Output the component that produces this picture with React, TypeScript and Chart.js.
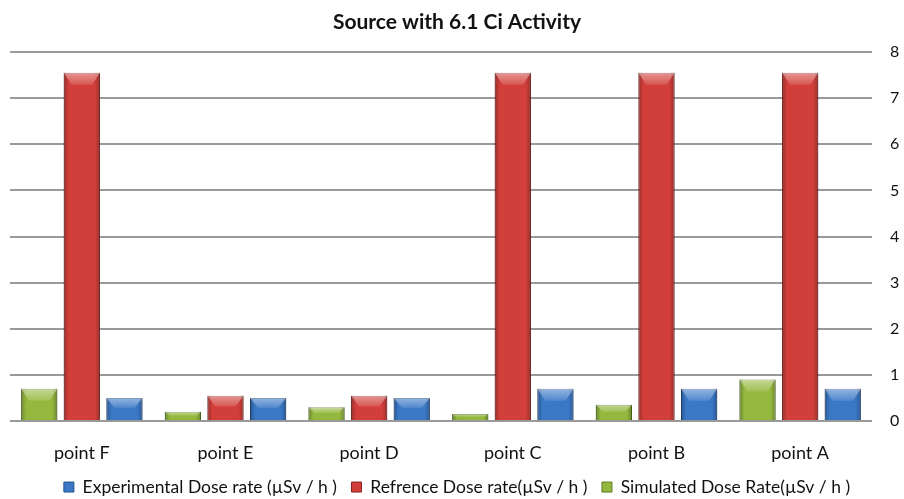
import React, { useEffect, useRef } from "react";
import { Chart, registerables } from "chart.js";

Chart.register(...registerables);

const categories = ["point F", "point E", "point D", "point C", "point B", "point A"];
const simulated = [0.7, 0.2, 0.3, 0.15, 0.35, 0.9];
const reference = [7.55, 0.55, 0.55, 7.55, 7.55, 7.55];
const experimental = [0.5, 0.5, 0.5, 0.7, 0.7, 0.7];
const yTicks = [0, 1, 2, 3, 4, 5, 6, 7, 8];

const FONT = "Lato, 'Open Sans', sans-serif";

// Excel-like bevel: darker sides and a lighter trapezoid on the top of each bar
const bevelPlugin = {
  id: "bevel",
  afterDatasetsDraw(chart: any) {
    const ctx = chart.ctx;
    chart.data.datasets.forEach((_ds: any, di: number) => {
      const meta = chart.getDatasetMeta(di);
      if (meta.hidden) return;
      meta.data.forEach((bar: any) => {
        const { x, y, base, width } = bar.getProps(["x", "y", "base", "width"], true);
        const l = x - width / 2;
        const r = x + width / 2;
        const h = base - y;
        if (h <= 0) return;
        ctx.save();
        const g = ctx.createLinearGradient(l, 0, r, 0);
        g.addColorStop(0, "rgba(0,0,0,0.28)");
        g.addColorStop(0.14, "rgba(0,0,0,0.0)");
        g.addColorStop(0.86, "rgba(0,0,0,0.0)");
        g.addColorStop(1, "rgba(0,0,0,0.28)");
        ctx.fillStyle = g;
        ctx.fillRect(l, y, width, h);
        const bh = Math.min(12, h * 0.45);
        const inset = Math.min(width * 0.22, bh);
        const tg = ctx.createLinearGradient(0, y, 0, y + bh);
        tg.addColorStop(0, "rgba(255,255,255,0.45)");
        tg.addColorStop(1, "rgba(255,255,255,0.12)");
        ctx.fillStyle = tg;
        ctx.beginPath();
        ctx.moveTo(l, y);
        ctx.lineTo(r, y);
        ctx.lineTo(r - inset, y + bh);
        ctx.lineTo(l + inset, y + bh);
        ctx.closePath();
        ctx.fill();
        ctx.restore();
      });
    });
  },
};

export default function App() {
  const ref = useRef<HTMLCanvasElement>(null);

  useEffect(() => {
    if (!ref.current) return;
    const chart = new Chart(ref.current, {
      type: "bar",
      data: {
        labels: categories,
        datasets: [
          {
            label: "Simulated Dose Rate(µSv / h )",
            data: simulated,
            backgroundColor: "#94B83E",
            borderColor: "#5F7A22",
            borderWidth: 1,
          },
          {
            label: "Refrence Dose rate(µSv / h )",
            data: reference,
            backgroundColor: "#D23F3A",
            borderColor: "#8E2421",
            borderWidth: 1,
          },
          {
            label: "Experimental Dose rate (µSv / h )",
            data: experimental,
            backgroundColor: "#3A78C6",
            borderColor: "#23528E",
            borderWidth: 1,
          },
        ],
      },
      options: {
        animation: false,
        responsive: false,
        maintainAspectRatio: false,
        layout: { padding: { left: 10, right: 0, top: 0, bottom: -6.8 } },
        datasets: {
          bar: { categoryPercentage: 0.89, barPercentage: 0.85 },
        },
        plugins: {
          title: {
            display: true,
            text: "Source with 6.1 Ci Activity",
            color: "#111",
            font: { family: FONT, size: 21, weight: "bold" },
            padding: { top: 10, bottom: 16.8 },
          },
          legend: {
            position: "bottom",
            reverse: true,
            labels: {
              color: "#111",
              font: { family: FONT, size: 17.5 },
              boxWidth: 10,
              boxHeight: 10,
              padding: 14.5,
            },
          },
          tooltip: { enabled: false },
        },
        scales: {
          x: {
            grid: { display: false },
            border: { display: false },
            ticks: {
              color: "#111",
              font: { family: FONT, size: 18 },
              padding: 13.2,
            },
            afterFit: (axis: any) => {
              axis.height = 42.8;
            },
          },
          y: {
            position: "right",
            min: 0,
            max: 8,
            afterBuildTicks: (axis: any) => {
              axis.ticks = yTicks.map((v) => ({ value: v }));
            },
            afterFit: (axis: any) => {
              axis.width = 32;
            },
            grid: { color: "#9a9a9a", lineWidth: 2, drawTicks: false },
            border: { display: false },
            ticks: {
              color: "#111",
              font: { family: FONT, size: 16 },
              padding: 18,
            },
          },
        },
      },
      plugins: [bevelPlugin],
    });
    return () => chart.destroy();
  }, []);

  return (
    <div style={{ position: "fixed", left: 0, top: 0, width: 904, height: 499, background: "#fff" }}>
      <canvas ref={ref} width={904} height={499} />
    </div>
  );
}
